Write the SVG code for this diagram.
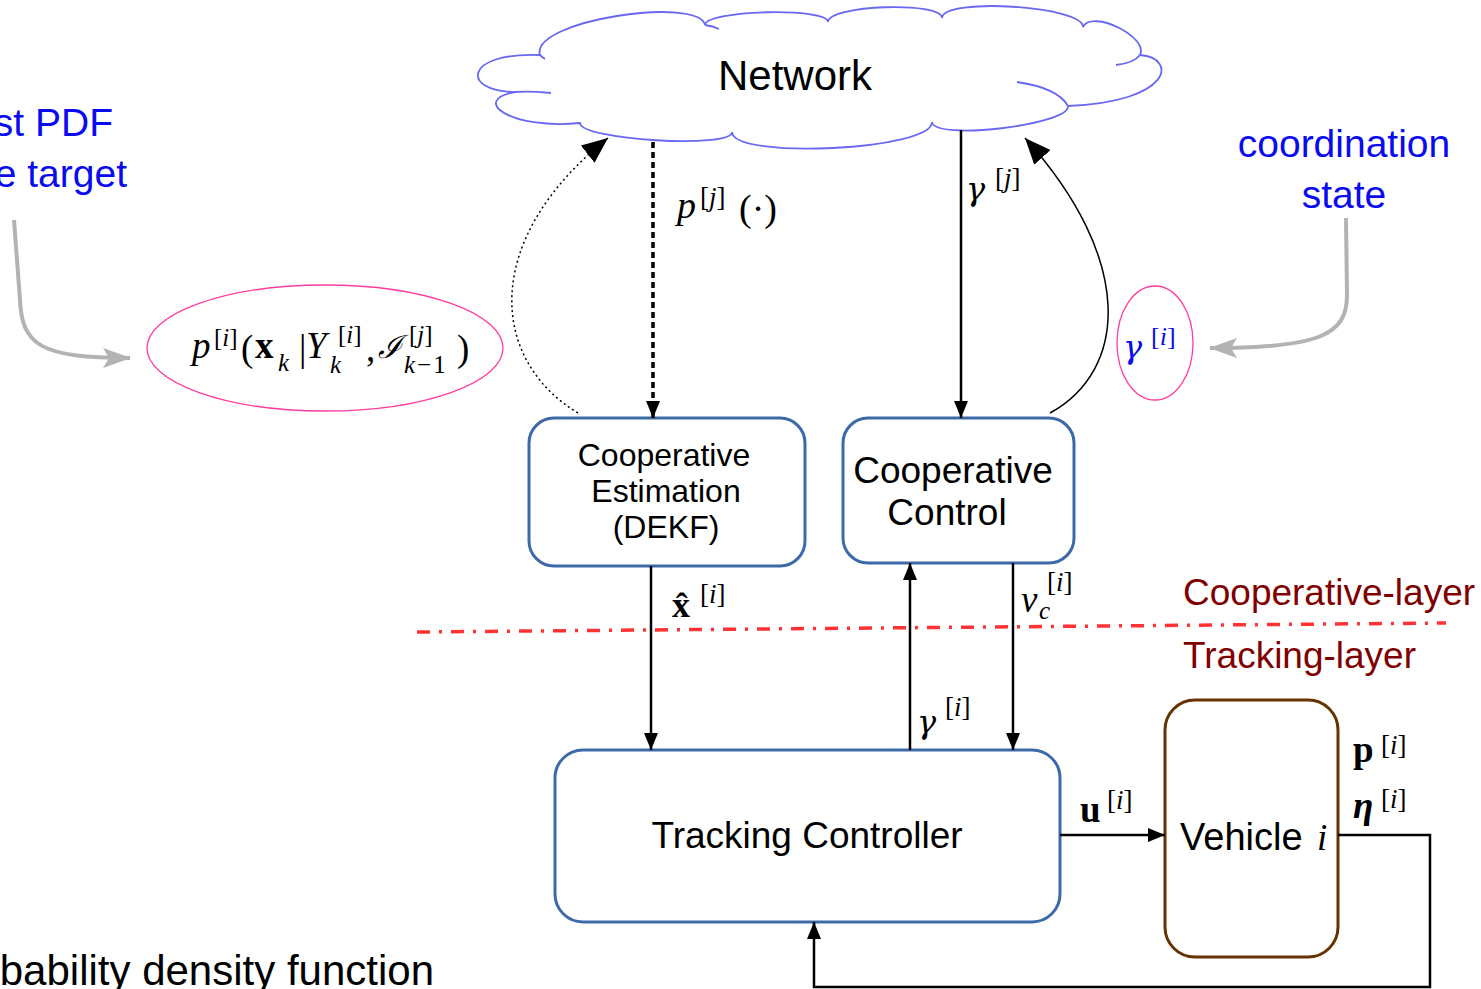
<svg xmlns="http://www.w3.org/2000/svg" width="1481" height="989" viewBox="0 0 1481 989">
<style>
.sans{font-family:"Liberation Sans",Arial,sans-serif}
.blue{fill:#0a0af0}
.m{font-family:"Liberation Serif","DejaVu Serif",serif;fill:#000}
.g{font-family:"DejaVu Serif","Liberation Serif",serif;font-style:italic}
.it{font-style:italic}
.bf{font-weight:bold}
.box{fill:#fff;stroke:#3c6aa8;stroke-width:3}
.conn{fill:none;stroke:#000;stroke-width:2.5}
</style>
<defs>
<marker id="ah" viewBox="0 0 17 14" refX="17" refY="7" markerWidth="17" markerHeight="14" orient="auto" markerUnits="userSpaceOnUse"><path d="M0,0 L17,7 L0,14 z" fill="#000"/></marker>
<marker id="ahL" viewBox="0 0 26 22" refX="26" refY="11" markerWidth="26" markerHeight="22" orient="auto" markerUnits="userSpaceOnUse"><path d="M0,0 L26,11 L0,22 z" fill="#000"/></marker>
<marker id="ahG" viewBox="0 0 28 20" refX="27" refY="10" markerWidth="28" markerHeight="20" orient="auto" markerUnits="userSpaceOnUse"><path d="M0,0 L28,10 L0,20 L6,10 z" fill="#b3b3b3"/></marker>
</defs>

<g id="network">
<path d="M540,55 C530,20 700,-4 705,25 C705,10 828,7 828,22 C828,5 942,1 942,18 C943,-3 1084,6 1083,27 C1092,9 1149,37 1140,55 C1178,58 1172,102 1068,106 C1070,125 934,141 932,122 C933,150 733,160 732,132 C732,149 580,140 580,123 C510,130 470,100 515,92 C462,92 462,52 540,55 Z" fill="#fff" stroke="#6868f0" stroke-width="1.8"/>
<path d="M1017,82 Q1058,88 1068,106 M1140,55 Q1134,63 1116,65 M705,25 Q713,26 719,29 M515,92 Q530,91 551,93 M540,55 Q542,57 545,59" fill="none" stroke="#6868f0" stroke-width="1.8"/>
<text x="795" y="90" text-anchor="middle" class="sans" font-size="42">Network</text>
</g>

<g id="note-pdf">
<text x="113" y="136" text-anchor="end" class="sans blue" font-size="39">st PDF</text>
<text x="127" y="187" text-anchor="end" class="sans blue" font-size="39">e target</text>
</g>

<g id="note-coord">
<text x="1344" y="157" text-anchor="middle" class="sans blue" font-size="39">coordination</text>
<text x="1344" y="208" text-anchor="middle" class="sans blue" font-size="39">state</text>
</g>

<g id="pdf-ellipse">
<ellipse cx="325" cy="348" rx="178" ry="63" fill="#fff" stroke="#ff3d9e" stroke-width="1.3"/>
<text class="m it" x="192" y="358" font-size="37">p</text>
<text class="m" x="214" y="346" font-size="25">[<tspan class="it">i</tspan>]</text>
<text class="m" x="241" y="361" font-size="37">(</text>
<text class="m bf" x="255" y="358" font-size="37">x</text>
<text class="m it" x="278" y="371" font-size="25">k</text>
<text class="m" x="299" y="361" font-size="37">|</text>
<text class="m it" x="306" y="358" font-size="37">Y</text>
<text class="m" x="338" y="343" font-size="25">[<tspan class="it">i</tspan>]</text>
<text class="m it" x="330" y="373" font-size="25">k</text>
<text class="m" x="366" y="361" font-size="37">,</text>
<text class="m it" x="378" y="358" font-size="32">ℐ</text>
<text class="m" x="409" y="343" font-size="25">[<tspan class="it">j</tspan>]</text>
<text class="m" x="404" y="373" font-size="25" letter-spacing="2"><tspan class="it">k</tspan>−1</text>
<text class="m" x="457" y="361" font-size="37">)</text>
</g>

<g id="gamma-ellipse">
<ellipse cx="1155" cy="343" rx="38" ry="57" fill="#fff" stroke="#ff3d9e" stroke-width="1.3"/>
<text class="g" x="1123" y="358" font-size="32" style="fill:#0a0af0">γ</text>
<text class="m" x="1151" y="345" font-size="26" style="fill:#0a0af0">[<tspan class="it">i</tspan>]</text>
</g>

<g id="coop-estimation">
<rect class="box" x="529" y="418" width="276" height="148" rx="25"/>
<text x="664" y="466" text-anchor="middle" class="sans" font-size="32">Cooperative</text>
<text x="666" y="502" text-anchor="middle" class="sans" font-size="32">Estimation</text>
<text x="666" y="538" text-anchor="middle" class="sans" font-size="32">(DEKF)</text>
</g>

<g id="coop-control">
<rect class="box" x="843" y="418" width="231" height="145" rx="25"/>
<text x="953" y="483" text-anchor="middle" class="sans" font-size="37">Cooperative</text>
<text x="947" y="525" text-anchor="middle" class="sans" font-size="37">Control</text>
</g>

<g id="tracking-controller">
<rect class="box" x="555" y="750" width="505" height="172" rx="28"/>
<text x="807" y="848" text-anchor="middle" class="sans" font-size="37">Tracking Controller</text>
</g>

<g id="vehicle">
<rect x="1165" y="700" width="173" height="257" rx="30" fill="#fff" stroke="#663300" stroke-width="3"/>
<text x="1180" y="850" class="sans" font-size="38">Vehicle</text>
<text class="m it" x="1317" y="850" font-size="37">i</text>
</g>

<g id="layers">
<line x1="417" y1="632" x2="1446" y2="623" stroke="#ff3333" stroke-width="3.5" stroke-dasharray="13 9 3 9"/>
<text x="1183" y="605" class="sans" font-size="37" fill="#800000">Cooperative-layer</text>
<text x="1183" y="668" class="sans" font-size="37" fill="#800000">Tracking-layer</text>
</g>

<g id="footnote">
<text x="434" y="985" text-anchor="end" class="sans" font-size="42">bability density function</text>
</g>

<g id="connectors">
<path d="M653,142 V418" fill="none" stroke="#000" stroke-width="3.5" stroke-dasharray="6 4" marker-end="url(#ah)"/>
<path class="conn" d="M961,130 V418" marker-end="url(#ah)"/>
<path class="conn" d="M651,566 V750" marker-end="url(#ah)"/>
<path class="conn" d="M910,750 V563" marker-end="url(#ah)"/>
<path class="conn" d="M1013,563 V750" marker-end="url(#ah)"/>
<path class="conn" d="M1060,835 H1165" marker-end="url(#ah)"/>
<path class="conn" d="M1338,835 H1430 V987 H814 V922" marker-end="url(#ah)"/>
<path d="M578,413 C490,360 480,240 608,138" fill="none" stroke="#000" stroke-width="1.5" stroke-dasharray="2 3" marker-end="url(#ahL)"/>
<path d="M1050,413 C1128,370 1135,260 1025,138" fill="none" stroke="#000" stroke-width="1.5" marker-end="url(#ahL)"/>
<path d="M14,220 L20,300 C22,345 40,358 130,358" fill="none" stroke="#b3b3b3" stroke-width="4" marker-end="url(#ahG)"/>
<path d="M1346,218 L1347,295 C1347,335 1320,348 1210,348" fill="none" stroke="#b3b3b3" stroke-width="4" marker-end="url(#ahG)"/>
</g>

<g id="labels">
<text class="m it" x="677" y="218" font-size="38">p</text>
<text class="m" x="700" y="206" font-size="27">[<tspan class="it">j</tspan>]</text>
<text class="m" x="739" y="221" font-size="38">(·)</text>
<text class="g" x="966" y="200" font-size="32">γ</text>
<text class="m" x="995" y="187" font-size="27">[<tspan class="it">j</tspan>]</text>
<text class="m bf" x="672" y="617" font-size="36">x̂</text>
<text class="m" x="700" y="603" font-size="27">[<tspan class="it">i</tspan>]</text>
<text class="g" x="917" y="733" font-size="32">γ</text>
<text class="m" x="945" y="716" font-size="27">[<tspan class="it">i</tspan>]</text>
<text class="m it" x="1021" y="612" font-size="37">v</text>
<text class="m it" x="1039" y="619" font-size="25">c</text>
<text class="m" x="1047" y="591" font-size="27">[<tspan class="it">i</tspan>]</text>
<text class="m bf" x="1080" y="822" font-size="37">u</text>
<text class="m" x="1107" y="809" font-size="27">[<tspan class="it">i</tspan>]</text>
<text class="m bf" x="1353" y="762" font-size="37">p</text>
<text class="m" x="1381" y="754" font-size="27">[<tspan class="it">i</tspan>]</text>
<text class="m bf it" x="1353" y="818" font-size="37">η</text>
<text class="m" x="1381" y="808" font-size="27">[<tspan class="it">i</tspan>]</text>
</g>
</svg>
